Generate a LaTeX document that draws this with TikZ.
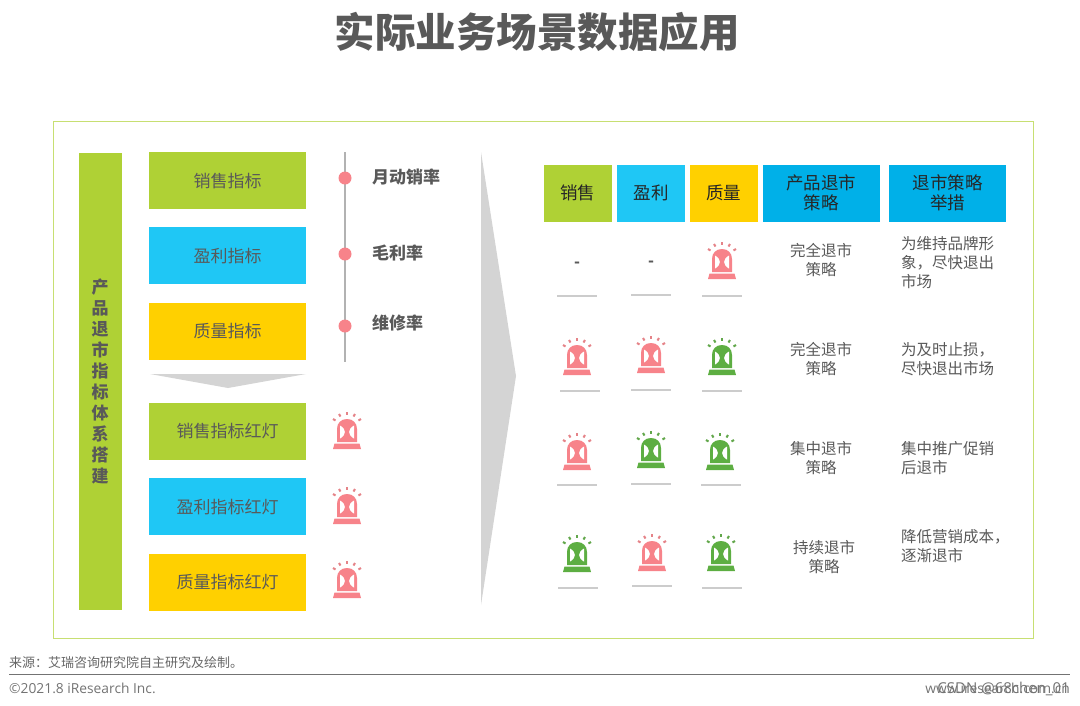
\documentclass[tikz,border=0pt]{standalone}
\usepackage{fontspec}
\setmainfont{Noto Sans CJK SC}
\newfontfamily\latinfont{Open Sans}
\usetikzlibrary{positioning}
\definecolor{barGreen}{HTML}{AFD135}
\definecolor{barBlue}{HTML}{1FC7F5}
\definecolor{barYellow}{HTML}{FFD000}
\definecolor{headBlue}{HTML}{00B0E8}
\definecolor{lampRed}{HTML}{F7838A}
\definecolor{lampGreen}{HTML}{5DAE42}
\definecolor{inkGray}{HTML}{595959}
\tikzset{
  x=1pt,y=-1pt,
  metric/.style={minimum width=157pt,minimum height=57pt,inner sep=0pt,text=inkGray,font=\fontsize{17}{17}\selectfont},
  head/.style={minimum height=57pt,inner sep=0pt,text=black!85,align=center,font=\fontsize{17.5}{20}\selectfont},
  rate/.style={anchor=west,inner sep=0pt,text=inkGray,font=\fontsize{17}{17}\selectfont\bfseries},
  cell/.style={inner sep=0pt,text=inkGray,align=left,font=\fontsize{15.5}{19}\selectfont},
  foot/.style={inner sep=0pt,text=black!55,font=\latinfont\fontsize{13.8}{13.8}\selectfont},
  lamp/.pic={
    % dome and body
    \fill[#1] (-10,10) -- (-10,-3) .. controls (-10,-9) and (-6,-13) .. (0,-13)
      .. controls (6,-13) and (10,-9) .. (10,-3) -- (10,10) -- cycle;
    \fill[white] (-7,-6.5) .. controls (-0.5,-3) and (-0.5,3) .. (-7,6.5) -- cycle;
    \fill[white] (7,-6.5) .. controls (0.5,-3) and (0.5,3) .. (7,6.5) -- cycle;
    \fill[#1] (-12.5,11.5) -- (12.5,11.5) -- (14,17) -- (-14,17) -- cycle;
    % rays
    \foreach \ax/\ay/\bx/\by in {-14/-13/-11.5/-11.5,-8/-18/-6.5/-15.5,0/-20/0/-17,8/-18/6.5/-15.5,14/-13/11.5/-11.5}
      \draw[#1!85!gray,line width=2pt] (\ax,\ay) -- (\bx,\by);
  }
}
\begin{document}
\begin{tikzpicture}
  \useasboundingbox (0,0) rectangle (1080,705);
  \node[text=inkGray,font=\fontsize{40.5}{40}\selectfont\bfseries] (title) at (537,32) {实际业务场景数据应用};
  \draw[draw=barGreen!70!white,line width=0.8pt] (53,121) rectangle (1033,638);

  % left column
  \node[fill=barGreen,minimum width=43pt,minimum height=457pt,inner sep=0pt] (axis) at (100,381) {};
  \node[text=inkGray,align=center,font=\fontsize{17}{21}\selectfont\bfseries] (axislabel) at (100,381) {产\\品\\退\\市\\指\\标\\体\\系\\搭\\建};
  \node[metric,fill=barGreen,text depth=-1pt] (sales) at (227.5,180.5) {销售指标};
  \node[metric,fill=barBlue,below=18pt of sales] (profit) {盈利指标};
  \node[metric,fill=barYellow,below=18pt of profit] (quality) {质量指标};
  \node[metric,fill=barGreen] (salesred) at (227.5,431.5) {销售指标红灯};
  \node[metric,fill=barBlue,below=18pt of salesred] (profitred) {盈利指标红灯};
  \node[metric,fill=barYellow,below=18pt of profitred] (qualityred) {质量指标红灯};
  \fill[black!17] (150,374) -- (306,374) -- (228,388) -- cycle;
  \fill[black!17] (481,152) -- (516,376) -- (481,605) -- cycle;

  % rates
  \coordinate (linetop) at (345,152);
  \coordinate (linebot) at (345,362);
  \draw[black!30,line width=2.5pt] (linetop) -- (linebot);
  \foreach \name/\ypos/\tpos/\txt in {month/178/177/月动销率,margin/254/253/毛利率,repair/326/323/维修率} {
    \fill[lampRed] (345,\ypos) circle[radius=6.5];
    \node[rate] (\name) at (372,\tpos) {\txt};
  }
  \foreach \ypos in {432,507,581}
    \pic at (347,\ypos) {lamp=lampRed};

  % table head
  \node[head,fill=barGreen,minimum width=68pt] (hsales) at (577.5,193) {销售};
  \node[head,fill=barBlue,minimum width=68pt] (hprofit) at (651,193) {盈利};
  \node[head,fill=barYellow,minimum width=68pt] (hquality) at (723.5,193) {质量};
  \node[head,fill=headBlue,minimum width=117pt] (hexit) at (821,193) {产品退市\\策略};
  \node[head,fill=headBlue,minimum width=117pt] (hmove) at (947.5,193) {退市策略\\举措};

  % table rows
  \node[cell,font=\fontsize{15.5}{19}\selectfont\bfseries] (dash1) at (577,265) {-};
  \node[cell,font=\fontsize{15.5}{19}\selectfont\bfseries] (dash2) at (651,264) {-};
  \foreach \xpos/\ypos/\tone in {722/262/lampRed,
      577/358/lampRed,651/356/lampRed,722/358/lampGreen,
      577/453/lampRed,651/451/lampGreen,720/453/lampGreen,
      577/555/lampGreen,652/554/lampRed,721/554/lampGreen}
    \pic at (\xpos,\ypos) {lamp=\tone};
  \foreach \xpos/\ypos in {577/296,651/295,722/296,
      580/391,651/390,722/391,
      577/485,651/484,721/485,
      578/588,652/586,722/588}
    \draw[black!20,line width=1.8pt] (\xpos-20,\ypos) -- (\xpos+20,\ypos);
  \node[cell,align=center] (exit1) at (821,260) {完全退市\\策略};
  \node[cell,align=center] (exit2) at (821,359) {完全退市\\策略};
  \node[cell,align=center] (exit3) at (821,458) {集中退市\\策略};
  \node[cell,align=center] (exit4) at (824,557) {持续退市\\策略};
  \node[cell,anchor=west] (move1) at (901,263) {为维持品牌形\\象，尽快退出\\市场};
  \node[cell,anchor=west] (move2) at (901,359) {为及时止损，\\尽快退出市场};
  \node[cell,anchor=west] (move3) at (901,458) {集中推广促销\\后退市};
  \node[cell,anchor=west] (move4) at (901,546) {降低营销成本，\\逐渐退市};

  % footer
  \coordinate (ruleleft) at (9,674);
  \coordinate (ruleright) at (1070,674);
  \draw[black!55,line width=0.8pt] (ruleleft) -- (ruleright);
  \node[anchor=west,inner sep=0pt,text=black!60,font=\fontsize{13}{13}\selectfont] (source) at (9,663) {来源：艾瑞咨询研究院自主研究及绘制。};
  \node[foot,anchor=base west] (copy) at (9,693) {©2021.8 iResearch Inc.};
  \node[foot,anchor=base east] (site) at (1070,693) {www.iresearch.com.cn};
  \node[foot,anchor=base east,font=\latinfont\fontsize{15}{15}\selectfont] (mark) at (1070,693) {CSDN @68chen\_01};
\end{tikzpicture}
\end{document}
